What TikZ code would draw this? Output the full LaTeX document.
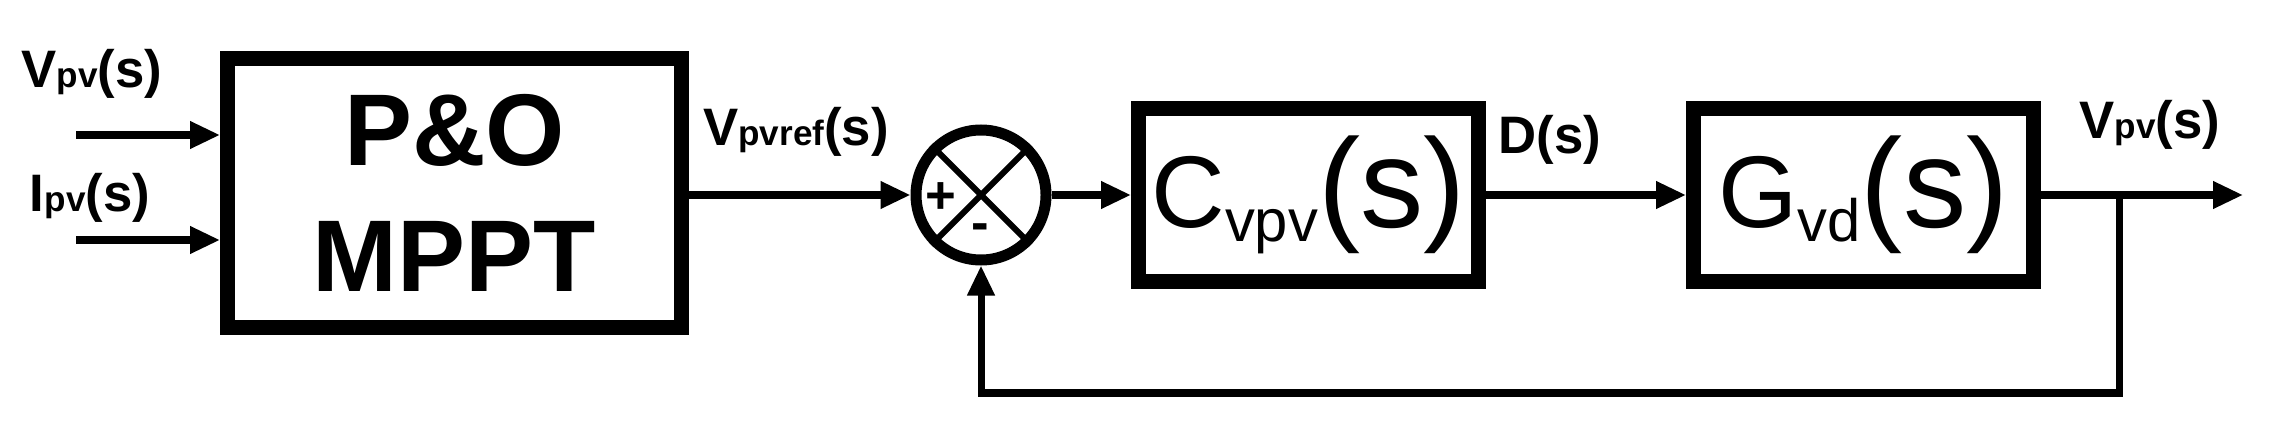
\documentclass[tikz,border=0pt]{standalone}
\usepackage{fontspec}
\setmainfont{Liberation Sans}
\usetikzlibrary{arrows.meta}
\begin{document}
\begin{tikzpicture}[
    block/.style={draw=black, line width=0.15cm, rectangle, inner sep=0pt},
    sumnode/.style={draw=black, line width=0.11cm, circle, minimum size=1.3cm, inner sep=0pt},
    arr/.style={line width=2pt, -{Triangle[length=0.3cm,width=0.26cm]}},
    lbl/.style={font=\bfseries\fontsize{15}{15}\selectfont, inner sep=0pt}
]
\useasboundingbox (0,0) rectangle (22.75,4.27);
\node[block, minimum width=4.54cm, minimum height=2.69cm, align=center,
      font=\bfseries\fontsize{29}{36}\selectfont] (mppt) at (4.545,2.34) {P\&O\\MPPT};
\node[sumnode] (sum) at (9.81,2.32) {};
\draw[line width=0.06cm] (sum.north west) -- (sum.south east);
\draw[line width=0.06cm] (sum.north east) -- (sum.south west);
\node[font=\bfseries\fontsize{15}{15}\selectfont] (plus) at (9.41,2.29) {+};
\node[font=\bfseries\fontsize{15}{15}\selectfont] (minus) at (9.80,1.95) {-};
\node[block, minimum width=3.40cm, minimum height=1.73cm,
      font=\fontsize{29}{29}\selectfont] (cvpv) at (13.085,2.32)
      {C\raisebox{-0.25ex}{\fontsize{17}{17}\selectfont vpv}{\fontsize{36}{36}\selectfont(s)}};
\node[block, minimum width=3.40cm, minimum height=1.73cm,
      font=\fontsize{29}{29}\selectfont] (gvd) at (18.635,2.32)
      {G\raisebox{-0.25ex}{\fontsize{17}{17}\selectfont vd}{\fontsize{36}{36}\selectfont(s)}};
% inputs
\coordinate (vin) at (0.76,2.92);
\coordinate (iin) at (0.76,1.87);
\draw[arr] (vin) -- (vin -| mppt.west);
\draw[arr] (iin) -- (iin -| mppt.west);
\node[lbl] (vpvin) at (0.92,3.53) {V{\fontsize{10}{10}\selectfont pv}(s)};
\node[lbl] (ipvin) at (0.90,2.29) {I{\fontsize{10}{10}\selectfont pv}(s)};
% forward path
\draw[arr] (mppt.east |- sum) -- (sum.west);
\node[lbl] (vref) at (7.96,2.95) {V{\fontsize{10}{10}\selectfont pvref}(s)};
\draw[arr] (sum.east) -- (cvpv.west);
\draw[arr] (cvpv.east) -- (gvd.west);
\node[lbl] (dlbl) at (15.5,2.87) {D(s)};
\coordinate (out) at (22.43,2.32);
\coordinate (branch) at (21.19,2.32);
\coordinate (fb) at (21.19,0.34);
\draw[arr] (gvd.east) -- (out);
\node[lbl] (vpvout) at (21.5,3.02) {V{\fontsize{10}{10}\selectfont pv}(s)};
% feedback
\draw[arr] (branch) -- (fb) -- (fb -| sum) -- (sum.south);
\end{tikzpicture}
\end{document}
